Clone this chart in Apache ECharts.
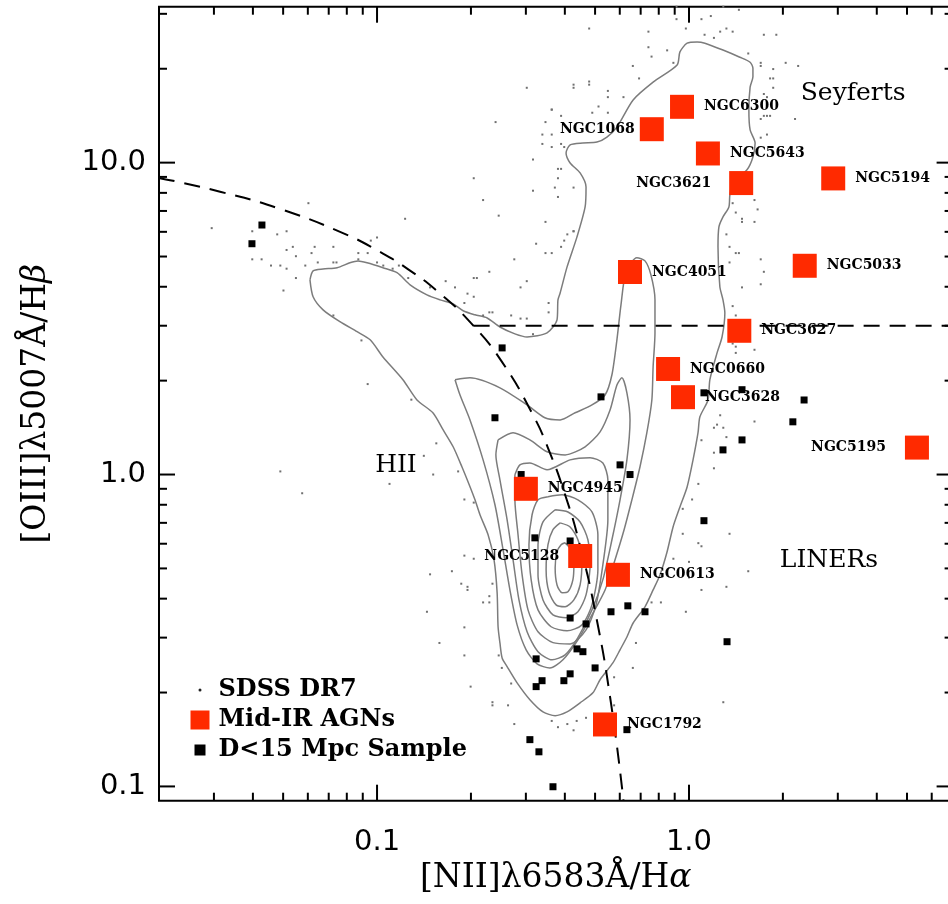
<!DOCTYPE html>
<html><head><meta charset="utf-8">
<script src="https://cdn.jsdelivr.net/npm/echarts@6/dist/echarts.min.js"></script>
<style>html,body{margin:0;padding:0;background:#fff}#c{width:948px;height:904px}</style>
</head><body><div id="c"></div>
<script>
// ---------- DATA (log10 line ratios unless noted) ----------
const agnNames = ['NGC6300','NGC1068','NGC5643','NGC3621','NGC5194','NGC4051','NGC5033','NGC3627','NGC0660','NGC3628','NGC5195','NGC4945','NGC5128','NGC0613','NGC1792'];
const agnNII  = [0.95, 0.76, 1.15, 1.47, 2.90, 0.647, 2.35, 1.45, 0.857, 0.957, 5.38, 0.30, 0.448, 0.592, 0.538];
const agnOIII = [15.1, 12.8, 10.7, 8.6, 8.9, 4.46, 4.67, 2.89, 2.18, 1.77, 1.22, 0.90, 0.548, 0.477, 0.158];

const d15Log = [[-1.369,0.800],[-1.401,0.740],[-0.599,0.406],[-0.282,0.249],[-0.622,0.182],[0.048,0.262],[0.170,0.272],[0.369,0.239],[0.333,0.169],[0.170,0.111],[0.109,0.079],[-0.221,0.031],[-0.189,0.000],[-0.538,0.000],[0.048,-0.148],[-0.494,-0.203],[-0.381,-0.213],[-0.381,-0.460],[-0.330,-0.479],[-0.250,-0.440],[-0.196,-0.421],[-0.141,-0.440],[0.122,-0.536],[-0.359,-0.559],[-0.340,-0.568],[-0.490,-0.591],[-0.301,-0.620],[-0.381,-0.639],[-0.471,-0.661],[-0.401,-0.661],[-0.490,-0.680],[-0.199,-0.818],[-0.510,-0.850],[-0.481,-0.889],[-0.436,-1.001]];

const sdssLog = [[-1.53,0.79],[-1.22,0.87],[-1.29,0.78],[-1.32,0.77],[-1.40,0.78],[-1.40,0.69],[-1.37,0.69],[-1.34,0.67],[-1.31,0.67],[-1.29,0.72],[-1.27,0.73],[-1.26,0.70],[-1.29,0.66],[-1.26,0.63],[-1.30,0.59],[-1.23,0.67],[-1.21,0.71],[-1.20,0.73],[-1.19,0.68],[-1.14,0.73],[-1.14,0.68],[-1.13,0.68],[-1.06,0.71],[-1.03,0.71],[-1.02,0.75],[-1.00,0.76],[-1.06,0.69],[-1.00,0.68],[-0.98,0.67],[-0.95,0.66],[-0.93,0.67],[-0.90,0.63],[-0.83,0.60],[-0.78,0.62],[-0.75,0.60],[-0.71,0.58],[-0.69,0.57],[-0.68,0.63],[-0.64,0.65],[-0.64,0.52],[-0.66,0.51],[-0.72,0.55],[-0.91,0.82],[-0.61,0.83],[-1.14,0.51],[-1.05,0.43],[-1.03,0.29],[-0.89,0.24],[-0.81,0.10],[-0.85,0.06],[-0.82,0.00],[-0.74,0.01],[-0.96,-0.03],[-1.31,0.01],[-1.24,-0.06],
[-0.52,1.24],[-0.37,1.25],[-0.32,1.25],[-0.26,1.23],[-0.26,1.21],[-0.21,1.21],[-0.29,1.18],[-0.26,1.16],[-0.31,1.16],[-0.44,1.17],[-0.41,1.15],[-0.62,1.13],[-0.46,1.13],[-0.44,1.09],[-0.47,1.06],[-0.44,1.05],[-0.40,1.05],[-0.50,1.01],[-0.41,0.98],[-0.42,0.95],[-0.69,0.95],[-0.50,0.91],[-0.43,0.92],[-0.37,0.92],[-0.42,0.89],[-0.66,0.88],[-0.46,0.81],[-0.37,0.78],[-0.39,0.77],[-0.41,0.73],[-0.49,0.74],[-0.46,0.71],[-0.56,0.69],[-0.69,0.63],[-0.52,0.62],[-0.54,0.60],
[0.24,1.22],[0.25,1.15],[0.23,1.14],[0.25,1.09],[0.23,1.08],[0.34,1.14],[0.21,0.88],[0.22,0.85],[0.14,0.87],[0.15,0.84],[0.17,0.82],[0.21,0.81],[0.12,0.77],[0.15,0.71],[0.13,0.68],[0.23,0.69],[0.24,0.65],[0.17,0.60],[0.23,0.61],
[-0.04,1.46],[-0.04,1.50],[-0.01,1.43],[0.04,1.46],[0.07,1.47],[0.11,1.50],[0.10,1.42],[0.12,1.43],[0.14,1.42],[0.05,1.41],[0.08,1.40],[0.16,1.49],[-0.13,1.42],[-0.07,1.36],[-0.13,1.37],[-0.12,1.34],[-0.05,1.32],[-0.18,1.31],[-0.16,1.27],[-0.32,1.43],[-0.32,1.26],[-0.37,1.24],[-0.44,1.17],[-0.47,1.09],[-0.41,1.06],[-0.42,0.98],[-0.37,0.78],[-0.40,0.75],[-0.44,0.71],[0.19,1.35],[0.23,1.31],[0.26,1.27],[0.27,1.24],[0.25,1.21],[0.24,1.15],[0.26,1.15],[0.28,1.41],[0.17,0.81],[0.13,0.73],[0.16,0.71],
[0.31,1.32],[0.35,1.31],[0.27,1.30],[0.27,1.27],[0.24,1.41],[0.23,1.32],
[0.14,0.54],[0.15,0.51],[0.15,0.41],[0.15,0.39],[0.21,0.40],[0.10,0.19],[0.09,0.16],[0.11,0.15],[0.12,0.12],[0.21,0.17],[0.08,0.15],[0.04,0.11],[0.08,0.07],[0.08,0.02],[0.03,-0.03],[0.01,-0.08],[-0.02,-0.11],[-0.02,-0.19],[0.03,-0.22],[0.04,-0.23],[0.13,-0.19],[-0.05,-0.27],[0.00,-0.28],[0.00,-0.33],[-0.54,0.50],[-0.57,0.51],[-0.50,0.45],[-0.52,0.50],[-0.63,0.52],[-0.45,0.52],[-0.45,0.55],[-0.72,-0.08],[-0.69,-0.09],[-0.72,-0.26],[-0.69,-0.27],[-0.63,-0.35],[-0.71,-0.37],[0.14,0.48],[0.14,0.42],
[-0.83,-0.32],[-0.76,-0.31],[-0.73,-0.35],[-0.71,-0.36],[-0.84,-0.44],[-0.80,-0.54],[-0.72,-0.49],[-0.72,-0.58],[-0.66,-0.41],[-0.64,-0.39],[-0.64,-0.41],[-0.61,-0.58],[-0.60,-0.62],[-0.70,-0.68],[-0.63,-0.73],[-0.63,-0.74],[-0.58,-0.74],[-0.57,-0.67],[-0.56,-0.80],[-0.44,-0.79],[-0.42,-0.81],[-0.39,-0.80],[-0.37,-0.82],[-0.36,-0.79],[-0.33,-0.78],[-0.24,-0.74],[-0.24,-0.65],[-0.18,-0.62],[-0.17,-0.54],[-0.12,-0.41],[-0.09,-0.41],[-0.01,-0.44],[0.04,-0.37],[0.12,-0.36],[0.11,-0.73],[0.19,-0.31]];

// SDSS density contours (log10 [NII]/Ha, log10 [OIII]/Hb), outermost first
const contour1 = [[-1.215,0.624],[-1.205,0.653],[-1.173,0.659],[-1.128,0.663],[-1.087,0.679],[-1.061,0.685],[-1.032,0.679],[-0.981,0.663],[-0.936,0.647],[-0.894,0.608],[-0.840,0.576],[-0.798,0.560],[-0.756,0.547],[-0.724,0.525],[-0.686,0.512],[-0.647,0.502],[-0.606,0.473],[-0.558,0.451],[-0.519,0.441],[-0.455,0.454],[-0.423,0.496],[-0.420,0.560],[-0.413,0.582],[-0.391,0.665],[-0.359,0.762],[-0.333,0.858],[-0.330,0.922],[-0.349,0.967],[-0.381,0.999],[-0.394,1.031],[-0.381,1.057],[-0.340,1.063],[-0.295,1.066],[-0.263,1.082],[-0.231,1.114],[-0.179,1.201],[-0.115,1.258],[-0.038,1.313],[-0.029,1.355],[-0.006,1.383],[0.026,1.387],[0.051,1.383],[0.109,1.361],[0.163,1.338],[0.196,1.322],[0.205,1.303],[0.205,1.275],[0.196,1.242],[0.192,1.169],[0.196,1.105],[0.212,1.063],[0.205,1.018],[0.186,0.977],[0.141,0.938],[0.131,0.896],[0.128,0.858],[0.109,0.826],[0.096,0.794],[0.093,0.730],[0.099,0.602],[0.109,0.560],[0.115,0.518],[0.106,0.441],[0.090,0.390],[0.067,0.304],[0.061,0.239],[0.035,0.185],[0.029,0.134],[0.013,0.047],[-0.006,-0.040],[-0.029,-0.104],[-0.051,-0.168],[-0.071,-0.251],[-0.093,-0.322],[-0.115,-0.370],[-0.141,-0.424],[-0.179,-0.476],[-0.199,-0.521],[-0.221,-0.562],[-0.244,-0.604],[-0.285,-0.658],[-0.308,-0.700],[-0.349,-0.732],[-0.391,-0.761],[-0.429,-0.773],[-0.468,-0.761],[-0.510,-0.722],[-0.551,-0.668],[-0.583,-0.616],[-0.599,-0.588],[-0.606,-0.540],[-0.612,-0.488],[-0.615,-0.379],[-0.625,-0.273],[-0.644,-0.193],[-0.670,-0.129],[-0.686,-0.081],[-0.702,-0.039],[-0.728,0.025],[-0.756,0.089],[-0.788,0.143],[-0.821,0.198],[-0.872,0.239],[-0.917,0.304],[-0.981,0.377],[-1.022,0.432],[-1.064,0.458],[-1.119,0.490],[-1.173,0.528],[-1.205,0.570],[-1.215,0.624]];
const contour2 = [[-0.750,0.304],[-0.702,0.310],[-0.606,0.278],[-0.519,0.223],[-0.462,0.182],[-0.413,0.175],[-0.365,0.198],[-0.311,0.223],[-0.269,0.255],[-0.247,0.320],[-0.231,0.432],[-0.218,0.544],[-0.202,0.650],[-0.167,0.695],[-0.141,0.685],[-0.122,0.640],[-0.109,0.560],[-0.109,0.454],[-0.115,0.345],[-0.119,0.239],[-0.135,0.134],[-0.157,0.025],[-0.183,-0.081],[-0.208,-0.177],[-0.237,-0.273],[-0.269,-0.370],[-0.311,-0.450],[-0.356,-0.530],[-0.404,-0.594],[-0.446,-0.620],[-0.487,-0.607],[-0.522,-0.562],[-0.551,-0.482],[-0.574,-0.370],[-0.596,-0.241],[-0.622,-0.097],[-0.660,0.047],[-0.702,0.175],[-0.734,0.255],[-0.750,0.304]];
const contour3 = [[-0.612,0.111],[-0.564,0.134],[-0.510,0.111],[-0.455,0.073],[-0.397,0.063],[-0.333,0.089],[-0.285,0.137],[-0.253,0.207],[-0.231,0.287],[-0.215,0.310],[-0.199,0.262],[-0.189,0.175],[-0.199,0.047],[-0.221,-0.081],[-0.247,-0.209],[-0.276,-0.337],[-0.311,-0.434],[-0.356,-0.523],[-0.397,-0.578],[-0.439,-0.594],[-0.484,-0.568],[-0.519,-0.504],[-0.545,-0.402],[-0.564,-0.273],[-0.583,-0.145],[-0.606,-0.017],[-0.619,0.063],[-0.612,0.111]];
const contour4 = [[-0.558,-0.001],[-0.542,0.031],[-0.510,0.037],[-0.455,0.015],[-0.381,0.047],[-0.317,0.054],[-0.276,0.037],[-0.260,-0.017],[-0.260,-0.145],[-0.276,-0.289],[-0.298,-0.418],[-0.330,-0.498],[-0.381,-0.543],[-0.436,-0.539],[-0.484,-0.504],[-0.516,-0.434],[-0.535,-0.321],[-0.548,-0.193],[-0.558,-0.081],[-0.558,-0.001]];
const contour5 = [[-0.452,-0.071],[-0.407,-0.065],[-0.356,-0.081],[-0.311,-0.120],[-0.292,-0.193],[-0.292,-0.305],[-0.311,-0.418],[-0.343,-0.482],[-0.391,-0.501],[-0.442,-0.488],[-0.484,-0.434],[-0.506,-0.337],[-0.513,-0.225],[-0.503,-0.129],[-0.484,-0.081],[-0.452,-0.071]];
const contour6 = [[-0.429,-0.113],[-0.388,-0.120],[-0.349,-0.152],[-0.324,-0.209],[-0.317,-0.289],[-0.330,-0.386],[-0.356,-0.440],[-0.394,-0.459],[-0.436,-0.450],[-0.468,-0.402],[-0.484,-0.321],[-0.484,-0.225],[-0.468,-0.152],[-0.429,-0.113]];
const contour7 = [[-0.413,-0.155],[-0.381,-0.168],[-0.356,-0.209],[-0.343,-0.273],[-0.349,-0.354],[-0.369,-0.402],[-0.397,-0.424],[-0.426,-0.418],[-0.449,-0.376],[-0.458,-0.305],[-0.452,-0.225],[-0.436,-0.177],[-0.413,-0.155]];
const contour8 = [[-0.397,-0.219],[-0.378,-0.241],[-0.369,-0.289],[-0.372,-0.337],[-0.388,-0.376],[-0.407,-0.379],[-0.423,-0.354],[-0.429,-0.299],[-0.423,-0.248],[-0.410,-0.225],[-0.397,-0.219]];

// Kauffmann et al. (2003) demarcation
const kauffLogNII  = [-1.699,-1.5,-1.3,-1.1,-1.0,-0.9,-0.8,-0.7,-0.6,-0.5,-0.45,-0.4,-0.35,-0.3,-0.25,-0.21];
const kauffLogOIII = [0.951,0.906,0.848,0.770,0.719,0.658,0.582,0.487,0.362,0.191,0.080,-0.056,-0.225,-0.443,-0.733,-1.046];
// Seyfert / LINER divider ([OIII]/Hb = 3), linear ratios
const dividerNII  = [0.204, 7];
const dividerOIII = [3, 3];

// region labels (linear ratios)
const regionNames = ['Seyferts','LINERs','HII'];
const regionNII   = [3.36, 2.81, 0.115];
const regionOIII  = [16.7, 0.529, 1.066];

// axis ticks (linear ratios)
const xMajorTicks = [0.1, 1];
const xMinorTicks = [0.03,0.04,0.05,0.06,0.07,0.08,0.09,0.2,0.3,0.4,0.5,0.6,0.7,0.8,0.9,2,3,4,5,6];
const yMajorTicks = [0.1, 1, 10];
const yMinorTicks = [0.2,0.3,0.4,0.5,0.6,0.7,0.8,0.9,2,3,4,5,6,7,8,9,20,30];

// ---------- BUILD ----------
const lin = arr => arr.map(p => [Math.pow(10, p[0]), Math.pow(10, p[1])]);
const contours = [contour1,contour2,contour3,contour4,contour5,contour6,contour7,contour8];
const leftLabels = {NGC1068: 5, NGC3621: 18, NGC5195: 19, NGC5128: 9};

const labelFont = {fontFamily: 'DejaVu Serif', fontWeight: 'bold', fontSize: 14, color: '#000'};
const agnData = agnNames.map((n, i) => {
  const d = {name: n, value: [agnNII[i], agnOIII[i]]};
  if (leftLabels[n] !== undefined) d.label = {position: 'left', distance: leftLabels[n]};
  return d;
});

const series = [];
contours.forEach((c, i) => series.push({
  name: 'contour' + (i + 1), type: 'line', data: lin(c), showSymbol: false, symbol: 'none',
  smooth: 0.25, silent: true, z: 1,
  lineStyle: {color: '#7c7c7c', width: 1.5}
}));
series.push({
  name: 'SDSS DR7', type: 'scatter', data: lin(sdssLog), symbol: 'rect', symbolSize: 2,
  itemStyle: {color: '#707070', opacity: 1}, z: 2, silent: true
});
series.push({
  name: 'kauffmann', type: 'line', data: kauffLogNII.map((v, i) => [Math.pow(10, v), Math.pow(10, kauffLogOIII[i])]),
  showSymbol: false, symbol: 'none', smooth: true, silent: true, z: 3,
  lineStyle: {color: '#000', width: 2, type: [16, 10]}
});
series.push({
  name: 'divider', type: 'line', data: dividerNII.map((v, i) => [v, dividerOIII[i]]),
  showSymbol: false, symbol: 'none', silent: true, z: 3,
  lineStyle: {color: '#000', width: 2, type: [16, 10]}
});
series.push({
  name: 'D<15 Mpc Sample', type: 'scatter', data: lin(d15Log), symbol: 'rect', symbolSize: 7,
  itemStyle: {color: '#000', opacity: 1}, z: 4, silent: true
});
series.push({
  name: 'Mid-IR AGNs', type: 'scatter', data: agnData, symbol: 'rect', symbolSize: 24,
  itemStyle: {color: '#ff2a00', opacity: 1}, z: 5, silent: true,
  label: Object.assign({show: true, position: 'right', distance: 10, formatter: p => p.name}, labelFont)
});
series.push({
  name: 'regions', type: 'scatter', symbol: 'circle', symbolSize: 0, itemStyle: {color: '#000', opacity: 1}, z: 6, silent: true,
  data: regionNames.map((n, i) => ({name: n, value: [regionNII[i], regionOIII[i]]})),
  label: {show: true, position: 'inside', formatter: p => p.name, fontFamily: 'DejaVu Serif', fontSize: 25,
          color: '#000', opacity: 1, textBorderWidth: 0}
});
series.push({
  name: 'ticks', type: 'custom', silent: true, z: 7, clip: false, data: [[1, 1]],
  renderItem: function (params, api) {
    const cs = params.coordSys;
    const L = cs.x, R = cs.x + cs.width, T = cs.y, B = cs.y + cs.height;
    const st = {stroke: '#000', lineWidth: 2};
    const ch = [];
    const ln = (x1, y1, x2, y2) => ch.push({type: 'line', shape: {x1, y1, x2, y2}, style: st});
    xMajorTicks.forEach(v => { const x = api.coord([v, 1])[0]; ln(x, B, x, B - 16); ln(x, T, x, T + 16); });
    xMinorTicks.forEach(v => { const x = api.coord([v, 1])[0]; ln(x, B, x, B - 8); ln(x, T, x, T + 8); });
    yMajorTicks.forEach(v => { const y = api.coord([1, v])[1]; ln(L, y, L + 16, y); ln(R, y, R - 16, y); });
    yMinorTicks.forEach(v => { const y = api.coord([1, v])[1]; ln(L, y, L + 8, y); ln(R, y, R - 8, y); });
    return {type: 'group', children: ch};
  }
});

const decadeLabel = v => { const l = Math.log10(v); return Math.abs(l - Math.round(l)) < 1e-6 ? v.toFixed(1) : ''; };
const legendText = {fontFamily: 'DejaVu Serif', fontWeight: 'bold', fontSize: 24, color: '#000', lineHeight: 24};
const mkLegend = (name, icon, size, color, rowY, pad) => ({
  data: [{name: name, icon: icon, itemStyle: {color: color, opacity: 1}}],
  left: 200 - size / 2, top: rowY - 12, itemWidth: size, itemHeight: size, padding: 0,
  selectedMode: false, textStyle: Object.assign({padding: [0, 0, 0, pad]}, legendText)
});

const nameStyle = {fontFamily: 'DejaVu Serif', fontSize: 33, color: '#000',
  rich: {i: {fontFamily: 'DejaVu Serif', fontStyle: 'italic', fontSize: 33, color: '#000'}}};

const option = {
  animation: false,
  backgroundColor: '#fff',
  grid: {left: 159, top: 6.7, right: -4.6, bottom: 103.3, show: true, borderColor: '#000', borderWidth: 2,
         containLabel: false, outerBoundsMode: 'none'},
  xAxis: {
    type: 'log', logBase: 10, min: 0.02, max: 7,
    name: '[NII]λ6583Å/H{i|α}', nameLocation: 'middle', nameGap: 58, nameTextStyle: nameStyle,
    axisLine: {show: false}, axisTick: {show: false}, splitLine: {show: false}, minorTick: {show: false},
    axisLabel: {formatter: decadeLabel, fontFamily: 'DejaVu Sans', fontSize: 29, color: '#000', margin: 27,
      showMinLabel: false, showMaxLabel: false, hideOverlap: false}
  },
  yAxis: {
    type: 'log', logBase: 10, min: 0.09, max: 31.62,
    name: '[OIII]λ5007Å/H{i|β}', nameLocation: 'middle', nameGap: 106, nameTextStyle: nameStyle,
    axisLine: {show: false}, axisTick: {show: false}, splitLine: {show: false}, minorTick: {show: false},
    axisLabel: {formatter: decadeLabel, fontFamily: 'DejaVu Sans', fontSize: 29, color: '#000', margin: 13,
      showMinLabel: false, showMaxLabel: false, hideOverlap: false}
  },
  legend: [
    mkLegend('SDSS DR7', 'circle', 3, '#222', 690, 12),
    mkLegend('Mid-IR AGNs', 'rect', 19, '#ff2a00', 720, 4),
    mkLegend('D<15 Mpc Sample', 'rect', 11, '#000', 750, 8)
  ],
  series: series
};

const chart = echarts.init(document.getElementById('c'), null, {renderer: 'canvas'});
chart.setOption(option);
</script></body></html>
